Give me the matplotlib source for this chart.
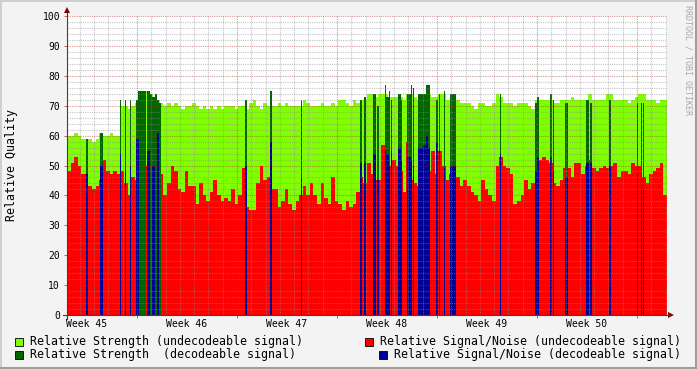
import numpy as np
import matplotlib.pyplot as plt
from matplotlib.patches import Rectangle, Polygon
from matplotlib.transforms import blended_transform_factory

# 6 hour bins, day 0 = left edge of the graph
bin_days = 0.25
strength = [
    60, 60, 61, 60, 59, 59, 59, 58, 59, 61, 60, 60, 61, 60, 60, 70, 70, 69, 70, 71, 74, 74, 75, 74, 73, 72, 71, 70,
    71, 70, 71, 70, 69, 70, 70, 71, 70, 69, 70, 69, 70, 69, 70, 69, 70, 70, 70, 69, 70, 70, 69, 71, 72, 70, 69, 71,
    70, 70, 70, 71, 70, 71, 70, 70, 70, 70, 72, 71, 70, 70, 70, 71, 70, 70, 71, 70, 72, 72, 71, 70, 72, 71, 72, 72,
    74, 74, 73, 74, 74, 74, 73, 73, 73, 73, 72, 74, 74, 73, 72, 73, 73, 74, 73, 73, 74, 74, 72, 72, 74, 72, 71, 71,
    71, 70, 69, 71, 71, 70, 70, 71, 74, 73, 71, 71, 71, 70, 71, 71, 71, 70, 69, 72, 72, 72, 72, 72, 71, 71, 72, 72,
    72, 73, 72, 72, 72, 72, 74, 72, 72, 72, 72, 74, 74, 72, 72, 72, 72, 71, 72, 73, 74, 74, 72, 72, 72, 71, 72, 72,
]
snr = [
    48, 51, 53, 50, 47, 47, 43, 42, 43, 45, 52, 48, 47, 48, 47, 48, 44, 40, 46, 45, 45, 48, 50, 50, 48, 50, 47, 40,
    44, 50, 48, 42, 41, 48, 43, 43, 37, 44, 40, 38, 41, 45, 40, 38, 39, 38, 42, 37, 40, 49, 36, 35, 35, 44, 50, 45,
    46, 42, 42, 36, 38, 42, 37, 35, 38, 40, 43, 40, 44, 40, 37, 44, 39, 37, 46, 38, 37, 35, 38, 36, 37, 41, 46, 44,
    51, 47, 45, 45, 57, 52, 50, 52, 50, 48, 41, 58, 45, 44, 43, 48, 50, 48, 55, 47, 55, 50, 45, 47, 48, 46, 43, 45,
    43, 41, 40, 38, 45, 42, 40, 38, 50, 53, 50, 49, 47, 37, 38, 40, 45, 42, 44, 48, 52, 53, 52, 51, 44, 43, 45, 49,
    49, 46, 51, 51, 47, 50, 52, 49, 48, 49, 50, 49, 50, 51, 46, 48, 48, 47, 51, 50, 50, 46, 44, 47, 48, 49, 51, 40,
]

# periods with decodeable signal (start day, length in days)
dec_start = [1.33, 2.275, 3.675, 4.025, 4.375, 4.795, 4.935, 5.6, 5.775, 5.915, 6.16, 6.265, 6.44,
             12.495, 14.21, 16.345, 20.51, 20.825,
             21.385, 21.735, 22.26, 22.33, 22.54, 22.68, 23.135, 23.345, 23.8, 24.115, 24.22,
             24.57, 24.92, 25.13, 25.305, 25.865, 26.075, 26.355, 26.845,
             30.31, 32.725, 32.9, 33.81, 33.985, 34.86,
             36.33, 36.575, 37.905, 39.865, 40.145, 40.32]
dec_width = [0.105, 0.21, 0.105, 0.084, 0.105, 0.21, 0.595, 0.175, 0.14, 0.245, 0.105, 0.175, 0.105,
             0.14, 0.105, 0.105, 0.105, 0.14,
             0.245, 0.105, 0.07, 0.21, 0.105, 0.07, 0.21, 0.105, 0.28, 0.07, 0.07,
             0.35, 0.21, 0.14, 0.14, 0.105, 0.07, 0.105, 0.42,
             0.105, 0.14, 0.14, 0.14, 0.105, 0.21,
             0.21, 0.14, 0.175, 0.105, 0.07, 0.07]
dec_strength = [59, 61, 72, 72, 72, 72, 75, 75, 74, 73, 74, 72, 71,
                72, 75, 72, 72, 73,
                74, 70, 77, 73, 75, 72, 74, 72, 74, 77, 76,
                74, 74, 77, 77, 72, 74, 75, 74,
                74, 71, 73, 74, 72, 71,
                72, 71, 72, 71, 71, 71]
dec_snr = [47, 50, 54, 48, 50, 59, 0, 55, 0, 50, 0, 61, 0,
           50, 58, 46, 51, 51,
           54, 45, 55, 54, 50, 55, 56, 52, 53, 52, 50,
           56, 57, 60, 56, 58, 55, 49, 50,
           54, 48, 53, 53, 48, 46,
           51, 51, 50, 47, 42, 42]

week_names = ['Week 45', 'Week 46', 'Week 47', 'Week 48', 'Week 49', 'Week 50']
first_monday = 4.9

mono = 'DejaVu Sans Mono'
W, H = 697, 369
fig = plt.figure(figsize=(W / 100, H / 100), dpi=100, facecolor='#f3f3f3')
ax = fig.add_axes([67 / W, 54 / H, 600 / W, 299 / H], facecolor='white')

edges = np.arange(len(strength) + 1) * bin_days
ax.stairs(strength, edges, fill=True, color='#80ff00', lw=0)
ax.stairs(snr, edges, fill=True, color='#ff0000', lw=0)
ax.bar(dec_start, dec_strength, width=dec_width, align='edge', color='#006600', lw=0)
ax.bar(dec_start, dec_snr, width=dec_width, align='edge', color='#000099', lw=0)

ax.set_xlim(0, 42)
ax.set_ylim(0, 100)
ax.set_yticks(range(0, 101, 10))
ax.set_yticks([v for v in range(0, 101, 2) if v % 10], minor=True)
mondays = first_monday + 7 * np.arange(6)
ax.set_xticks(mondays)
ax.set_xticks([d for d in np.arange(0.9, 42, 1) if min(abs(d - mondays)) > 0.01], minor=True)
ax.set_xticklabels([])
ax.set_yticklabels([str(v) for v in range(0, 101, 10)], fontfamily=mono, fontsize=7)
ax.set_axisbelow(False)
ax.grid(which='minor', color='#8c8c8c', alpha=0.5, lw=0.8, ls=(0, (1, 1)))
ax.grid(which='major', color='#b03030', alpha=0.5, lw=0.8, ls=(0, (1, 1)))
ax.tick_params(which='major', length=2, width=0.7, color='#c06060', pad=3)
ax.tick_params(which='minor', length=0)
for s in ax.spines.values():
    s.set_visible(False)

tr = blended_transform_factory(ax.transData, ax.transAxes)
for i, name in enumerate(week_names):
    ax.text(mondays[i] - 3.5, -0.03, name, transform=tr, ha='center', va='center',
            fontfamily=mono, fontsize=7)

# frame, axes arrows, legend etc. in pixel coordinates
deco = fig.add_axes([0, 0, 1, 1], facecolor='none')
deco.set_xlim(0, W)
deco.set_ylim(H, 0)
deco.axis('off')

deco.plot([0, W], [0.5, 0.5], color='#cfcfcf', lw=1.4)
deco.plot([0.5, 0.5], [0, H], color='#cfcfcf', lw=1.4)
deco.plot([0, W], [H - 1, H - 1], color='#9e9e9e', lw=1.5)
deco.plot([W - 1, W - 1], [0, H], color='#9e9e9e', lw=1.5)

deco.plot([63, 669], [315, 315], color='#404040', lw=0.8)
deco.plot([67, 67], [319, 13], color='#404040', lw=0.8)
deco.add_patch(Polygon([[668, 312], [668, 318], [674, 315]], color='#800000', lw=0))
deco.add_patch(Polygon([[64, 13], [70, 13], [67, 7]], color='#800000', lw=0))

deco.text(12, 165, 'Relative Quality', rotation=90, ha='center', va='center',
          fontfamily=mono, fontsize=8.4)
deco.text(688, 5, 'RRDTOOL / TOBI OETIKER', rotation=-90, ha='center', va='top',
          fontfamily=mono, fontsize=6, color='#a8a8a8')

legend = [
    (15, 341.5, '#80ff00', 'Relative Strength (undecodeable signal)'),
    (15, 354.5, '#006600', 'Relative Strength  (decodeable signal)'),
    (365, 341.5, '#ff0000', 'Relative Signal/Noise (undecodeable signal)'),
    (379, 354.5, '#000099', 'Relative Signal/Noise (decodeable signal)'),
]
for x, y, c, label in legend:
    deco.add_patch(Rectangle((x, y - 4), 8, 8, facecolor=c, edgecolor='black', lw=0.6))
    deco.text(x + 15, y, label, ha='left', va='center', fontfamily=mono, fontsize=8.4)

fig.savefig('out.png', dpi=100, facecolor=fig.get_facecolor())
